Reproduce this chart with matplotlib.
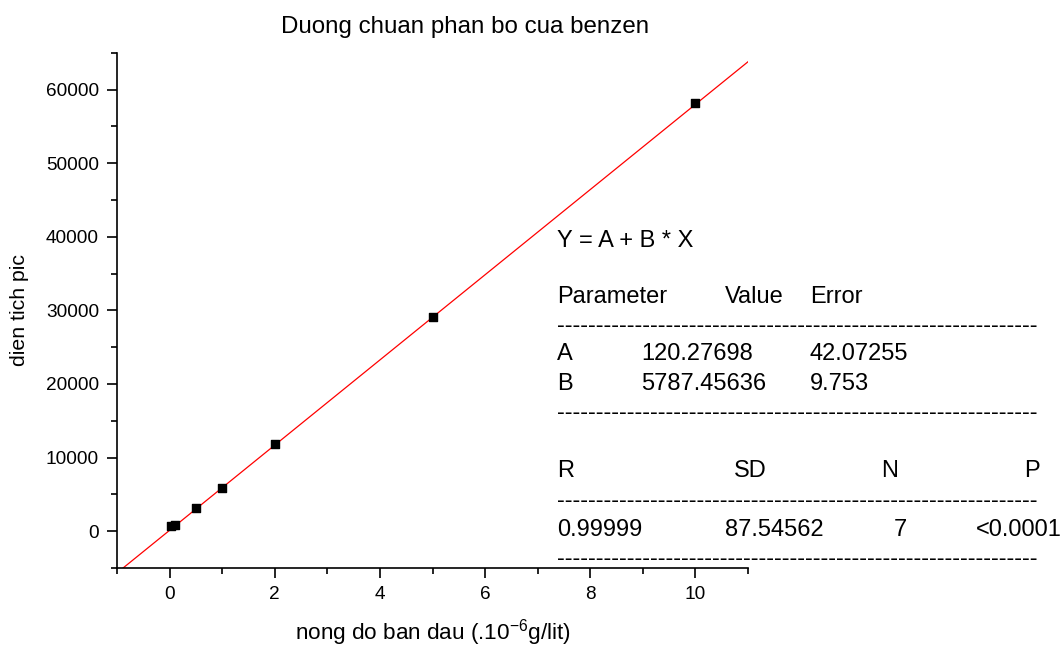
import numpy as np
import matplotlib.pyplot as plt
from matplotlib.ticker import MultipleLocator

plt.rcParams['font.family'] = ['Liberation Sans', 'DejaVu Sans']
plt.rcParams['mathtext.fontset'] = 'custom'
plt.rcParams['mathtext.rm'] = 'Liberation Sans'
plt.rcParams['mathtext.it'] = 'Liberation Sans'

# measured points (concentration, peak area)
conc = [0.02, 0.1, 0.5, 1, 2, 5, 10]
area = [700, 880, 3100, 5900, 11800, 29150, 58200]

# linear fit parameters shown in the table
A = 120.27698
B = 5787.45636
fit_x = [-1, 11]

fig = plt.figure(figsize=(10.64, 6.48), dpi=100)
ax = fig.add_axes([0.110, 0.1235, 0.593, 0.795])

xs = np.array(fit_x, dtype=float)
ax.plot(xs, A + B * xs, color="red", linewidth=0.9)
ax.scatter(conc, area, marker="s", s=26, color="black", zorder=3)

ax.set_xlim(-1, 11)
ax.set_ylim(-5000, 65000)
ax.xaxis.set_minor_locator(MultipleLocator(1))
ax.yaxis.set_minor_locator(MultipleLocator(5000))
ax.set_xticks([0, 2, 4, 6, 8, 10])
ax.set_yticks([0, 10000, 20000, 30000, 40000, 50000, 60000])
for s in ["top", "right"]:
    ax.spines[s].set_visible(False)
for s in ["left", "bottom"]:
    ax.spines[s].set_linewidth(1.2)
ax.tick_params(which="major", direction="out", length=7, width=1.2, labelsize=13.7, pad=6)
ax.tick_params(which="minor", direction="out", length=4, width=1.2)

ax.set_xlabel("nong do ban dau (.10$^{\\mathrm{-6}}$g/lit)", fontsize=16.2, labelpad=10)
ax.set_ylabel("dien tich pic", fontsize=15.3, labelpad=12)

W, H = 1064, 648
fig.text(465 / W, 1 - 27 / H, "Duong chuan phan bo cua benzen",
         fontsize=17.4, ha="center", va="center")

# fit summary table (pixel positions from top-left)
fs = 17
dash = "-" * 62


def put(x, y, s, ha="left"):
    fig.text(x / W, 1 - y / H, s, fontsize=fs, ha=ha, va="center")


put(557, 241, "Y = A + B * X")
put(557, 297, "Parameter")
put(725, 297, "Value")
put(810, 297, "Error")
put(557, 326, dash)
put(557, 354, "A")
put(641, 354, "120.27698")
put(810, 354, "42.07255")
put(557, 384, "B")
put(641, 384, "5787.45636")
put(810, 384, "9.753")
put(557, 413, dash)
put(557, 471, "R")
put(750, 471, "SD", ha="center")
put(890, 471, "N", ha="center")
put(1040, 471, "P", ha="right")
put(557, 501, dash)
put(557, 530, "0.99999")
put(725, 530, "87.54562")
put(900, 530, "7", ha="center")
put(1062, 530, "<0.0001", ha="right")
put(557, 559, dash)

fig.savefig("out.png", dpi=100)
